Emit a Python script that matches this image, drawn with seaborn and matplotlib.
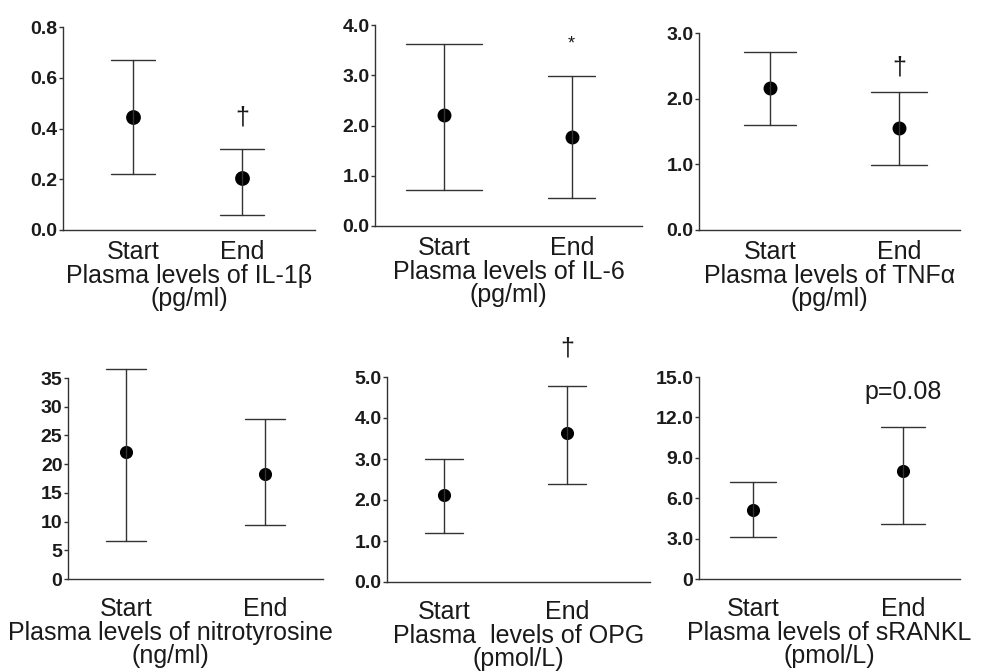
import pandas as pd
import matplotlib
matplotlib.use("Agg")
import matplotlib.pyplot as plt
import seaborn as sns

phases = ["Start", "End"]

# mean and error bar ends for each marker (order: Start, End)
il1b_mean = [0.445, 0.205]
il1b_low = [0.22, 0.06]
il1b_high = [0.67, 0.32]

il6_mean = [2.21, 1.77]
il6_low = [0.72, 0.56]
il6_high = [3.63, 2.99]

tnf_mean = [2.16, 1.55]
tnf_low = [1.60, 0.99]
tnf_high = [2.71, 2.10]

nitro_mean = [22.1, 18.3]
nitro_low = [6.6, 9.4]
nitro_high = [36.6, 27.9]

opg_mean = [2.12, 3.63]
opg_low = [1.20, 2.39]
opg_high = [3.00, 4.78]

rankl_mean = [5.12, 8.02]
rankl_low = [3.12, 4.08]
rankl_high = [7.20, 11.30]

# axis ticks and labels
il1b_ticks = [0.0, 0.2, 0.4, 0.6, 0.8]
il6_ticks = [0.0, 1.0, 2.0, 3.0, 4.0]
tnf_ticks = [0.0, 1.0, 2.0, 3.0]
nitro_ticks = [0, 5, 10, 15, 20, 25, 30, 35]
opg_ticks = [0.0, 1.0, 2.0, 3.0, 4.0, 5.0]
rankl_ticks = [0, 3.0, 6.0, 9.0, 12.0, 15.0]
rankl_ticklabels = ["0", "3.0", "6.0", "9.0", "12.0", "15.0"]

panels = [
    dict(mean=il1b_mean, low=il1b_low, high=il1b_high, ticks=il1b_ticks,
         ticklabels=["%.1f" % t for t in il1b_ticks],
         label="Plasma levels of IL-1β\n(pg/ml)", note="†", note_y=0.445),
    dict(mean=il6_mean, low=il6_low, high=il6_high, ticks=il6_ticks,
         ticklabels=["%.1f" % t for t in il6_ticks],
         label="Plasma levels of IL-6\n(pg/ml)", note="*", note_y=3.63),
    dict(mean=tnf_mean, low=tnf_low, high=tnf_high, ticks=tnf_ticks,
         ticklabels=["%.1f" % t for t in tnf_ticks],
         label="Plasma levels of TNFα\n(pg/ml)", note="†", note_y=2.48),
    dict(mean=nitro_mean, low=nitro_low, high=nitro_high, ticks=nitro_ticks,
         ticklabels=[str(t) for t in nitro_ticks],
         label="Plasma levels of nitrotyrosine\n(ng/ml)", note=None, note_y=None),
    dict(mean=opg_mean, low=opg_low, high=opg_high, ticks=opg_ticks,
         ticklabels=["%.1f" % t for t in opg_ticks],
         label="Plasma  levels of OPG\n(pmol/L)", note="†", note_y=5.7),
    dict(mean=rankl_mean, low=rankl_low, high=rankl_high, ticks=rankl_ticks,
         ticklabels=rankl_ticklabels,
         label="Plasma levels of sRANKL\n(pmol/L)", note="p=0.08", note_y=13.9),
]

# layout: axes box in pixels (left, top, right, bottom), x limits, cap widths, marker size
layout = [
    dict(box=(63, 27, 315, 230), xlim=(-0.64, 1.67), caps=(0.40, 0.41), ms=8.6, row=0, lx=0.5),
    dict(box=(375, 25, 642, 226), xlim=(-0.54, 1.55), caps=(0.60, 0.37), ms=8.0, row=0, lx=0.5),
    dict(box=(699, 33, 960, 230), xlim=(-0.55, 1.47), caps=(0.40, 0.43), ms=8.0, row=0, lx=0.5),
    dict(box=(68, 378, 323, 579), xlim=(-0.42, 1.42), caps=(0.29, 0.29), ms=7.4, row=1, lx=0.40),
    dict(box=(387, 377, 650, 582), xlim=(-0.46, 1.67), caps=(0.31, 0.31), ms=7.4, row=1, lx=0.5),
    dict(box=(699, 377, 960, 579), xlim=(-0.36, 1.38), caps=(0.31, 0.30), ms=7.4, row=1, lx=0.5),
]

W, H = 985, 672
line_col = "#333333"
text_col = "#1a1a1a"

sns.set_style("ticks")
plt.rcParams["font.family"] = ["Liberation Sans", "DejaVu Sans"]

fig = plt.figure(figsize=(W / 100, H / 100), dpi=100)

for p, lay in zip(panels, layout):
    l, t, r, b = lay["box"]
    ax = fig.add_axes([l / W, 1 - b / H, (r - l) / W, (b - t) / H])
    for i, phase in enumerate(phases):
        df = pd.DataFrame({"phase": phase,
                           "value": [p["low"][i], p["mean"][i], p["high"][i]]})
        sns.pointplot(data=df, x="phase", y="value", order=phases,
                      estimator="median", errorbar=lambda v: (min(v), max(v)),
                      capsize=lay["caps"][i], color="black", markers="o",
                      markersize=lay["ms"], linestyle="none",
                      err_kws={"linewidth": 1.0, "color": line_col}, ax=ax)
    for art in ax.lines + ax.collections:
        art.set_clip_on(False)

    ax.set_xlim(*lay["xlim"])
    ax.set_ylim(p["ticks"][0], p["ticks"][-1])
    ax.set_yticks(p["ticks"])
    ax.set_yticklabels(p["ticklabels"], fontweight="bold", fontsize=14, color=text_col)
    ax.set_xticks([0, 1])
    ax.set_xticklabels(phases, fontsize=18, color=text_col)
    ax.tick_params(axis="x", length=0, pad=7 if lay["row"] == 0 else 13)
    ax.tick_params(axis="y", length=3, width=1, color=line_col, pad=1)
    ax.set_ylabel("")
    ax.set_xlabel(p["label"], fontsize=18, color=text_col, linespacing=0.92,
                  labelpad=0.5 if lay["row"] == 0 else 0)
    ax.xaxis.label.set_x(lay["lx"])
    sns.despine(ax=ax)
    for side in ["left", "bottom"]:
        ax.spines[side].set_color(line_col)
        ax.spines[side].set_linewidth(1.0)

    if p["note"] is not None:
        size = 18 if p["note"] != "*" else 13
        ax.text(1, p["note_y"], p["note"], ha="center", va="center",
                fontsize=size, color=text_col)

fig.savefig("out.png", dpi=100)
